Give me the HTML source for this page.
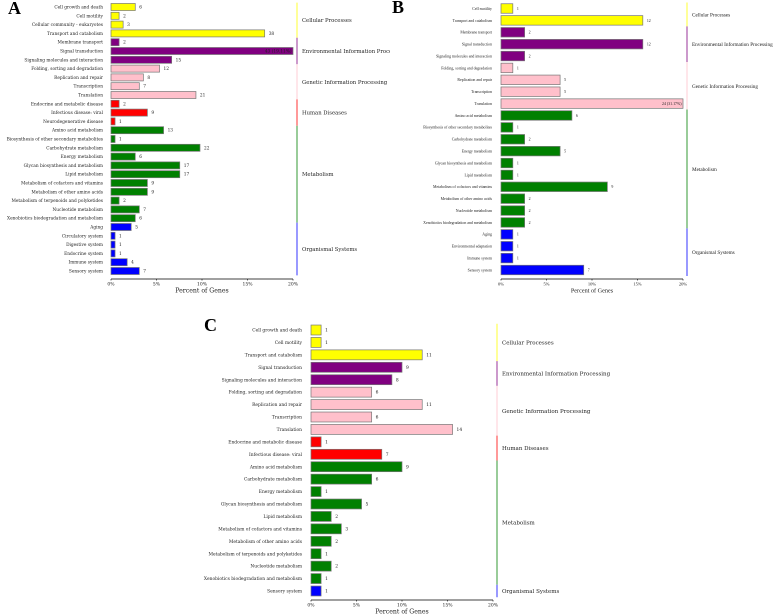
<!DOCTYPE html>
<html><head><meta charset="utf-8"><style>
html,body{margin:0;padding:0;background:#fff;}
svg{display:block;}
</style></head><body>
<svg id="chart" width="777" height="615" viewBox="0 0 777 615" xmlns="http://www.w3.org/2000/svg">
<defs>
<clipPath id="clipA"><rect x="0" y="0" width="390" height="305"/></clipPath>
</defs>
<g id="panelA" clip-path="url(#clipA)"></g>
<g id="panelB"></g>
<g id="panelC"></g>
</svg>
<script>
// ---- Panel A data ----
const aLabels = ["Cell growth and death","Cell motility","Cellular community - eukaryotes","Transport and catabolism","Membrane transport","Signal transduction","Signaling molecules and interaction","Folding, sorting and degradation","Replication and repair","Transcription","Translation","Endocrine and metabolic disease","Infectious disease: viral","Neurodegenerative disease","Amino acid metabolism","Biosynthesis of other secondary metabolites","Carbohydrate metabolism","Energy metabolism","Glycan biosynthesis and metabolism","Lipid metabolism","Metabolism of cofactors and vitamins","Metabolism of other amino acids","Metabolism of terpenoids and polyketides","Nucleotide metabolism","Xenobiotics biodegradation and metabolism","Aging","Circulatory system","Digestive system","Endocrine system","Immune system","Sensory system"];
const aValues = [6,2,3,38,2,43,15,12,8,7,21,2,9,1,13,1,22,6,17,17,9,9,2,7,6,5,1,1,1,4,7];
const aGroups = [0,0,0,0,1,1,1,2,2,2,2,3,3,3,4,4,4,4,4,4,4,4,4,4,4,5,5,5,5,5,5];
const aTotal = 225;
// ---- Panel B data ----
const bLabels = ["Cell motility","Transport and catabolism","Membrane transport","Signal transduction","Signaling molecules and interaction","Folding, sorting and degradation","Replication and repair","Transcription","Translation","Amino acid metabolism","Biosynthesis of other secondary metabolites","Carbohydrate metabolism","Energy metabolism","Glycan biosynthesis and metabolism","Lipid metabolism","Metabolism of cofactors and vitamins","Metabolism of other amino acids","Nucleotide metabolism","Xenobiotics biodegradation and metabolism","Aging","Environmental adaptation","Immune system","Sensory system"];
const bValues = [1,12,2,12,2,1,5,5,24,6,1,2,5,1,1,9,2,2,2,1,1,1,7];
const bGroups = [0,0,1,1,1,2,2,2,2,4,4,4,4,4,4,4,4,4,4,5,5,5,5];
const bTotal = 77;
// ---- Panel C data ----
const cLabels = ["Cell growth and death","Cell motility","Transport and catabolism","Signal transduction","Signaling molecules and interaction","Folding, sorting and degradation","Replication and repair","Transcription","Translation","Endocrine and metabolic disease","Infectious disease: viral","Amino acid metabolism","Carbohydrate metabolism","Energy metabolism","Glycan biosynthesis and metabolism","Lipid metabolism","Metabolism of cofactors and vitamins","Metabolism of other amino acids","Metabolism of terpenoids and polyketides","Nucleotide metabolism","Xenobiotics biodegradation and metabolism","Sensory system"];
const cValues = [1,1,11,9,8,6,11,6,14,1,7,9,6,1,5,2,3,2,1,2,1,1];
const cGroups = [0,0,0,1,1,2,2,2,2,3,3,4,4,4,4,4,4,4,4,4,4,5];
const cTotal = 90;

const groupNames = ["Cellular Processes","Environmental Information Processing","Genetic Information Processing","Human Diseases","Metabolism","Organismal Systems"];
const groupColors = ["#ffff00","#800080","#ffc0cb","#ff0000","#008000","#0000ff"];
const xTicks = [0,5,10,15,20];

const NS = "http://www.w3.org/2000/svg";
function mk(parent, tag, attrs, text){
  const e = document.createElementNS(NS, tag);
  for (const k in attrs) e.setAttribute(k, attrs[k]);
  if (text !== undefined) e.textContent = text;
  parent.appendChild(e);
  return e;
}

function drawPanel(cfg){
  const g = document.getElementById(cfg.id);
  const n = cfg.labels.length;
  const pitch = (cfg.yLast - cfg.yFirst) / (n - 1);
  const xScale = p => cfg.x0 + (Math.min(p, 20) / 20) * (cfg.x1 - cfg.x0);
  const yScale = i => cfg.yFirst + i * pitch;
  const bh = pitch * cfg.barFrac;
  const font = cfg.font;

  const letter = mk(g, "text", {x: cfg.letterX, y: cfg.letterY, "font-family": "Liberation Serif, serif", "font-weight": "bold", "font-size": 18, fill: "#000"}, cfg.letter);
  
  

  for (let i = 0; i < n; i++){
    const y = yScale(i);
    const pct = cfg.values[i] / cfg.total * 100;
    const big = pct > 18;
    const xe = big ? xScale(20) : xScale(pct);
    const lab = mk(g, "text", {x: cfg.labelRight, y: y + cfg.labelSize * 0.35, "text-anchor": "end", "font-family": font, "font-size": cfg.labelSize, fill: "#222"}, cfg.labels[i]);
    
    
    const bar = mk(g, "rect", {x: cfg.x0, y: y - bh / 2, width: Math.max(xe - cfg.x0, 0.5), height: bh, fill: groupColors[cfg.groups[i]], stroke: "#777", "stroke-width": 0.7});
    
    
    let vt;
    if (big){
      vt = mk(g, "text", {x: xe - 1.5, y: y + cfg.labelSize * 0.35, "text-anchor": "end", "font-family": font, "font-size": cfg.labelSize, fill: "#222"}, cfg.values[i] + " (" + pct.toFixed(2) + "%)");
    } else {
      vt = mk(g, "text", {x: xe + 4, y: y + cfg.labelSize * 0.35, "font-family": font, "font-size": cfg.labelSize, fill: "#222"}, String(cfg.values[i]));
    }
    
    
  }

  const ax = mk(g, "line", {x1: cfg.x0, x2: cfg.x1, y1: cfg.axisY, y2: cfg.axisY, stroke: "#000", "stroke-width": 0.8});
  
  
  xTicks.forEach(t => {
    const tx = xScale(t);
    mk(g, "line", {x1: tx, x2: tx, y1: cfg.axisY, y2: cfg.axisY + 1.5, stroke: "#000", "stroke-width": 0.6});
    const tl = mk(g, "text", {x: tx, y: cfg.axisY + 6.5, "text-anchor": "middle", "font-family": font, "font-size": 4.5, fill: "#222"}, t + "%");
    
    
  });
  const at = mk(g, "text", {x: (cfg.x0 + cfg.x1) / 2, y: cfg.axisY + 13.5, "text-anchor": "middle", "font-family": font, "font-size": 6.2, fill: "#222"}, "Percent of Genes");
  
  

  for (let gi = 0; gi < groupNames.length; gi++){
    const idx = [];
    cfg.groups.forEach((v, i) => { if (v === gi) idx.push(i); });
    if (!idx.length) continue;
    const top = yScale(idx[0]) - pitch / 2;
    const bot = yScale(idx[idx.length - 1]) + pitch / 2;
    const bl = mk(g, "line", {x1: cfg.bracketX, x2: cfg.bracketX, y1: top, y2: bot, stroke: groupColors[gi], "stroke-width": 0.8});
    
    
    const gl = mk(g, "text", {x: cfg.bracketX + 5, y: (top + bot) / 2 + 2, "font-family": font, "font-size": cfg.groupSize, fill: "#222"}, groupNames[gi]);
    
    
  }
}

drawPanel({id: "panelA", letter: "A", letterX: 8, letterY: 14, labels: aLabels, values: aValues, groups: aGroups, total: aTotal,
  x0: 111, x1: 293, yFirst: 7, yLast: 271, barFrac: 0.8, axisY: 279, labelRight: 103, bracketX: 297,
  font: "DejaVu Serif, serif", labelSize: 4.3, groupSize: 5.3});
drawPanel({id: "panelB", letter: "B", letterX: 392, letterY: 13, labels: bLabels, values: bValues, groups: bGroups, total: bTotal,
  x0: 501, x1: 683, yFirst: 8.5, yLast: 270, barFrac: 0.8, axisY: 279, labelRight: 492, bracketX: 687,
  font: "Liberation Serif, serif", labelSize: 3.9, groupSize: 5.2});
drawPanel({id: "panelC", letter: "C", letterX: 204, letterY: 331, labels: cLabels, values: cValues, groups: cGroups, total: cTotal,
  x0: 311, x1: 493, yFirst: 330, yLast: 591, barFrac: 0.8, axisY: 600, labelRight: 302, bracketX: 497,
  font: "DejaVu Serif, serif", labelSize: 4.4, groupSize: 5.5});
</script>
</body></html>
